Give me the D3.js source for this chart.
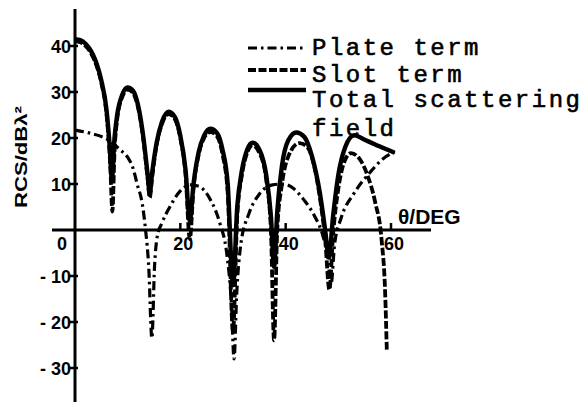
<!DOCTYPE html>
<html>
<head>
<meta charset="utf-8">
<script src="https://cdn.jsdelivr.net/npm/d3@7/dist/d3.min.js"></script>
<style>
  body { margin: 0; background: #fff; }
  svg { display: block; }
  .tick-label { font-family: "Liberation Sans", Arial, sans-serif; font-weight: bold; font-size: 18px; fill: #000; }
  .legend-text { font-family: "Liberation Mono", "Courier New", monospace; font-size: 24px; letter-spacing: 2.5px; fill: #000; stroke: #000; stroke-width: 0.6px; }
</style>
</head>
<body>
<svg id="chart" width="585" height="402"></svg>
<script>
// Total scattering field (solid)
const totalTheta = [0, 1, 2, 3, 4, 5, 6, 6.6, 7.0, 7.5, 8, 9, 10, 11, 12, 13, 13.8, 14.2, 14.6, 15.5, 16.5, 17.8, 19, 20, 21, 21.8, 22.5, 23.5, 24.5, 25.7, 27, 28, 29, 30, 30.8, 31.7, 32.7, 33.7, 35, 36.3, 37.2, 37.8, 38.4, 39.3, 40.5, 42, 43.5, 45, 46.5, 47.5, 48.2, 49, 50, 51.3, 53, 55, 57, 59, 60.7];
const totalRcs   = [41.5, 41.3, 40.5, 39, 36.5, 32.5, 26, 18, 11, 20, 25, 29.5, 31, 30.3, 27, 20, 12, 8, 12, 19, 23.5, 25.7, 24.5, 20.5, 13, 2, 10, 17, 20.5, 22, 21, 17.5, 10, -12, 5, 13, 17.5, 19, 17.5, 12, 3, -8, 4, 14, 19.5, 21.2, 20.3, 16, 8, 0, -6, 3, 12, 18, 20.6, 19.6, 18.6, 17.6, 16.8];

// Slot term (dashed)
const slotTheta = [0, 1, 2, 3, 4, 5, 6, 6.7, 7.1, 7.5, 8, 9, 10, 11, 12, 13, 13.8, 14.2, 14.6, 15.5, 16.5, 17.8, 19, 20, 21, 21.8, 22.5, 23.5, 24.5, 25.7, 27, 28, 29, 30, 30.8, 31.7, 32.7, 33.7, 35, 36.3, 37.2, 37.8, 38.4, 39.3, 40.5, 42.6, 44, 45.3, 46.5, 47.5, 48.3, 49, 50, 51.2, 52.4, 54, 55.5, 57, 58.2, 58.9, 59.2];
const slotRcs   = [41, 40.8, 40, 38.5, 36, 32, 25, 14, 4, 17, 24, 29, 30.5, 29.8, 26.5, 19.5, 11, 7, 11, 18.5, 23, 25.2, 24, 20, 12, -2, 9, 16.5, 20, 21.3, 20.3, 16.5, 8, -22, 3, 12, 16.8, 18.4, 16.8, 11, 0, -24, 0, 10, 16, 18.9, 18.2, 14.5, 7, -2, -13, -1, 9, 15, 16.7, 15.5, 12, 6, -2, -14, -26];

// Plate term (dash-dot)
const plateTheta = [0, 3, 6, 8.6, 10, 11, 11.8, 12.8, 13.4, 14, 14.6, 15.1, 15.6, 16.5, 18, 20, 21.8, 23.5, 25.5, 27.5, 28.8, 29.7, 30.2, 30.7, 31.5, 33, 35, 37.5, 39.5, 41.5, 43.5, 45.5, 47, 48, 48.6, 49.3, 50.5, 53, 56, 58.5, 60.7];
const plateRcs   = [21.7, 21, 19.8, 17.4, 15.8, 13.5, 10, 5.5, 0, -8, -23.5, -8, -1.5, 1.5, 5, 8.5, 9.8, 9.5, 7, 1.5, -5, -16, -28, -14, -3, 3.5, 7.8, 9.8, 10, 9, 6.5, 3, -1, -6, -12, -3, 2.5, 8, 12.5, 15.5, 17];

const xTicks = [20, 40, 60];
const yTicks = [40, 30, 20, 10, -10, -20, -30];
const yTickLabels = ["40", "30", "20", "10", "- 10", "- 20", "- 30"];
const legendLabels = [["Plate term"], ["Slot term"], ["Total scattering", "field"]];

const svg = d3.select("#chart");
const x = d3.scaleLinear().domain([0, 60]).range([75, 391]);
const y = d3.scaleLinear().domain([0, 40]).range([230, 46]);

const styles = {
  plate: { width: 3.2, dash: "9,4,2.5,4" },
  slot:  { width: 3.8, dash: "8,2.5" },
  total: { width: 4.4, dash: null }
};

// axes
svg.append("line").attr("x1", x(0)).attr("x2", x(0)).attr("y1", 9).attr("y2", 402)
  .attr("stroke", "#000").attr("stroke-width", 3);
svg.append("line").attr("x1", 52).attr("x2", 431).attr("y1", y(0)).attr("y2", y(0))
  .attr("stroke", "#000").attr("stroke-width", 3);

// y ticks and labels
yTicks.forEach((v, i) => {
  svg.append("line").attr("x1", x(0) - 5).attr("x2", x(0) + 3)
    .attr("y1", y(v)).attr("y2", y(v)).attr("stroke", "#000").attr("stroke-width", 2.5);
  svg.append("text").attr("class", "tick-label")
    .attr("x", x(0) - 4).attr("y", y(v) + 6.5).attr("text-anchor", "end")
    .text(yTickLabels[i]);
});

// x ticks and labels
xTicks.forEach(v => {
  svg.append("line").attr("x1", x(v)).attr("x2", x(v))
    .attr("y1", y(0) - 7).attr("y2", y(0)).attr("stroke", "#000").attr("stroke-width", 2.5);
  svg.append("text").attr("class", "tick-label")
    .attr("x", x(v) + 3).attr("y", y(0) + 20).attr("text-anchor", "middle").text(v);
});
svg.append("text").attr("class", "tick-label")
  .attr("x", x(0) - 13).attr("y", y(0) + 20).attr("text-anchor", "middle").text("0");

// axis titles
svg.append("text").attr("class", "tick-label").style("font-size", "21px")
  .attr("x", 398).attr("y", 224).text("\u03b8/DEG");
svg.append("text").attr("class", "tick-label").style("font-size", "17px")
  .attr("transform", "translate(27,157) rotate(-90)")
  .attr("text-anchor", "middle")
  .attr("textLength", 102).attr("lengthAdjust", "spacingAndGlyphs")
  .text("RCS/dB\u03bb\u00b2");

// curves
const line = d3.line().x(d => x(d[0])).y(d => y(d[1])).curve(d3.curveMonotoneX);
const series = [
  { key: "plate", theta: plateTheta, rcs: plateRcs },
  { key: "slot", theta: slotTheta, rcs: slotRcs },
  { key: "total", theta: totalTheta, rcs: totalRcs }
];
series.forEach(s => {
  const pts = s.theta.map((t, i) => [t, s.rcs[i]]);
  svg.append("path").datum(pts).attr("d", line)
    .attr("fill", "none").attr("stroke", "#000")
    .attr("stroke-width", styles[s.key].width)
    .attr("stroke-dasharray", styles[s.key].dash)
    .attr("stroke-linejoin", "round");
});

// legend
const legendY = [48, 70, 90];
const legendTextY = [55, 82, 107];
["plate", "slot", "total"].forEach((k, i) => {
  svg.append("line").attr("x1", 248).attr("x2", 306)
    .attr("y1", legendY[i]).attr("y2", legendY[i])
    .attr("stroke", "#000").attr("stroke-width", styles[k].width)
    .attr("stroke-dasharray", styles[k].dash);
  legendLabels[i].forEach((t, j) => {
    svg.append("text").attr("class", "legend-text")
      .attr("x", 312).attr("y", legendTextY[i] + j * 29).text(t);
  });
});
</script>
</body>
</html>
